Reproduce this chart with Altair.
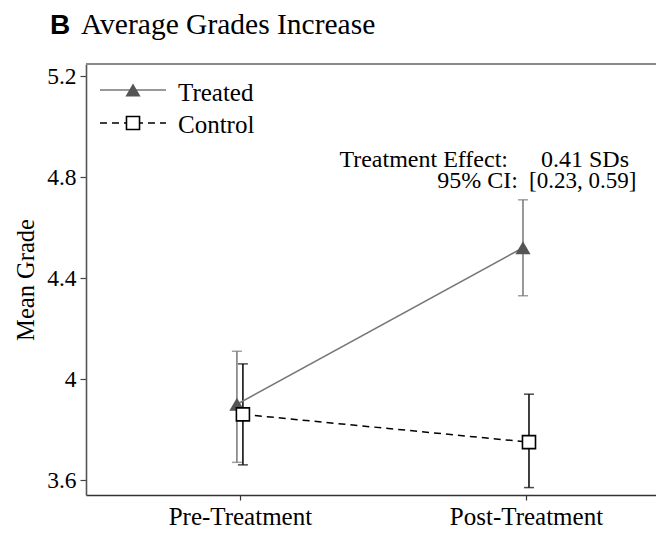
import altair as alt
import pandas as pd

periods = ["Pre-Treatment", "Post-Treatment"]
series = ["Treated", "Control"]
treated_mean = [3.90, 4.52]
treated_lo = [3.67, 4.33]
treated_hi = [4.11, 4.71]
control_mean = [3.86, 3.75]
control_lo = [3.66, 3.57]
control_hi = [4.06, 3.94]
y_ticks = [3.6, 4.0, 4.4, 4.8, 5.2]
effect_label = "Treatment Effect:"
effect_value = "0.41 SDs"
ci_label = "95% CI:"
ci_value = "[0.23, 0.59]"
panel_letter = "B"
title_text = "Average Grades Increase"

W, H = 570, 431
SERIF = "'Liberation Serif', 'Times New Roman', Times, serif"
SANS = "'Liberation Sans', Arial, Helvetica, sans-serif"
off = 0.0105

rows = []
for i, p in enumerate(periods):
    rows.append(dict(series="Treated", period=p, x=i - off, mean=treated_mean[i], lo=treated_lo[i], hi=treated_hi[i]))
    rows.append(dict(series="Control", period=p, x=i + off, mean=control_mean[i], lo=control_lo[i], hi=control_hi[i]))
df = pd.DataFrame(rows)
tr = df[df.series == "Treated"]
co = df[df.series == "Control"]

xs = alt.Scale(domain=[-0.538, 1.4545], nice=False, zero=False)
ys = alt.Scale(domain=[3.5406, 5.248], nice=False, zero=False)

label_expr = "datum.value == 0 ? '%s' : (datum.value == 1 ? '%s' : '')" % (periods[0], periods[1])

X = alt.X("x:Q", scale=xs, axis=alt.Axis(values=[0, 1], labelExpr=label_expr, title=None,
                                        labelFont=SERIF, labelFontSize=25, labelColor="black",
                                        tickSize=5, tickColor="#333", tickWidth=1.2,
                                        domainColor="#333", domainWidth=1.6, labelPadding=4,
                                        grid=False))
Y = alt.Y("mean:Q", scale=ys, axis=alt.Axis(values=y_ticks, format="~g", title="Mean Grade",
                                           titleFont=SERIF, titleFontSize=24.5, titleFontWeight="normal",
                                           titleColor="black", titleX=-60, titleY=H / 2,
                                           titleAlign="center", titleBaseline="middle", titleAngle=-90,
                                           labelFont=SERIF, labelFontSize=23.5, labelColor="black",
                                           tickSize=6, tickColor="#444", tickWidth=1.2,
                                           domainColor="#555", domainWidth=1.6, labelPadding=4,
                                           grid=False))

def errbars(d, color):
    base = alt.Chart(d)
    rule = base.mark_rule(color=color, strokeWidth=1.5).encode(x=alt.X("x:Q", scale=xs), y=alt.Y("lo:Q", scale=ys), y2="hi:Q")
    cap1 = base.mark_tick(color=color, orient="horizontal", size=10, thickness=1.5).encode(x=alt.X("x:Q", scale=xs), y=alt.Y("lo:Q", scale=ys))
    cap2 = base.mark_tick(color=color, orient="horizontal", size=10, thickness=1.5).encode(x=alt.X("x:Q", scale=xs), y=alt.Y("hi:Q", scale=ys))
    return rule + cap1 + cap2

tr_color = "#777777"
tr_fill = "#555555"

axes_layer = alt.Chart(df).mark_point(opacity=0).encode(x=X, y=Y)

tr_line = alt.Chart(tr).mark_line(color=tr_color, strokeWidth=1.5).encode(x=alt.X("x:Q", scale=xs), y=alt.Y("mean:Q", scale=ys))
co_line = alt.Chart(co).mark_line(color="black", strokeWidth=1.5, strokeDash=[7, 5]).encode(x=alt.X("x:Q", scale=xs), y=alt.Y("mean:Q", scale=ys))
tr_pts = alt.Chart(tr).mark_point(shape="triangle-up", filled=True, fill=tr_fill, color=tr_fill, size=230, opacity=1).encode(x=alt.X("x:Q", scale=xs), y=alt.Y("mean:Q", scale=ys))
co_pts = alt.Chart(co).mark_point(shape="square", filled=False, fill="white", fillOpacity=1, stroke="black", strokeWidth=1.6, size=170, opacity=1).encode(x=alt.X("x:Q", scale=xs), y=alt.Y("mean:Q", scale=ys))

one = pd.DataFrame({"series": series})
t_row = one[one.series == "Treated"]
c_row = one[one.series == "Control"]

top_line = alt.Chart(one.head(1)).mark_rule(color="#888888", strokeWidth=2).encode(y=alt.value(0))

leg_tr_line = alt.Chart(t_row).mark_rule(color=tr_color, strokeWidth=1.5).encode(x=alt.value(14), x2=alt.value(80), y=alt.value(26))
leg_tr_pt = alt.Chart(t_row).mark_point(shape="triangle-up", filled=True, fill=tr_fill, color=tr_fill, size=230, opacity=1).encode(x=alt.value(47), y=alt.value(26))
leg_tr_txt = alt.Chart(t_row).mark_text(font=SERIF, fontSize=25, align="left", baseline="alphabetic", color="black").encode(x=alt.value(92), y=alt.value(36.5), text="series:N")
leg_co_line = alt.Chart(c_row).mark_rule(color="black", strokeWidth=1.5, strokeDash=[7, 5]).encode(x=alt.value(14), x2=alt.value(80), y=alt.value(59))
leg_co_pt = alt.Chart(c_row).mark_point(shape="square", filled=False, fill="white", fillOpacity=1, stroke="black", strokeWidth=1.6, size=170, opacity=1).encode(x=alt.value(47), y=alt.value(59))
leg_co_txt = alt.Chart(c_row).mark_text(font=SERIF, fontSize=25, align="left", baseline="alphabetic", color="black").encode(x=alt.value(92), y=alt.value(68.5), text="series:N")

ann = pd.DataFrame({"t1": [effect_label], "t2": [effect_value], "t3": [ci_label], "t4": [ci_value], "b": [panel_letter], "tt": [title_text]})
def txt(field, x, y, align="right", size=24, font=SERIF, weight="normal"):
    return alt.Chart(ann).mark_text(font=font, fontSize=size, align=align, baseline="alphabetic", color="black", fontWeight=weight).encode(x=alt.value(x), y=alt.value(y), text=f"{field}:N")

annots = (txt("t1", 422, 103) + txt("t2", 455, 103, align="left") + txt("t3", 432, 124)
          + txt("t4", 443, 124, align="left", size=23)
          + txt("b", -36, -30, align="left", size=28, font=SANS, weight="bold")
          + txt("tt", -5, -30, align="left", size=29.5))

chart = alt.layer(
    axes_layer, top_line,
    errbars(tr, tr_color), errbars(co, "black"),
    tr_line, co_line, tr_pts, co_pts,
    leg_tr_line, leg_tr_pt, leg_tr_txt, leg_co_line, leg_co_pt, leg_co_txt,
    annots,
).properties(
    width=W, height=H,
    background="white",
    autosize=alt.AutoSizeParams(type="none"),
    padding={"left": 78, "top": 56, "right": 0, "bottom": 33},
).configure_view(stroke="white", strokeOpacity=0, strokeWidth=0).configure_axis(grid=False)

chart.save("out.html", embed_options={"renderer": "svg", "actions": False})
